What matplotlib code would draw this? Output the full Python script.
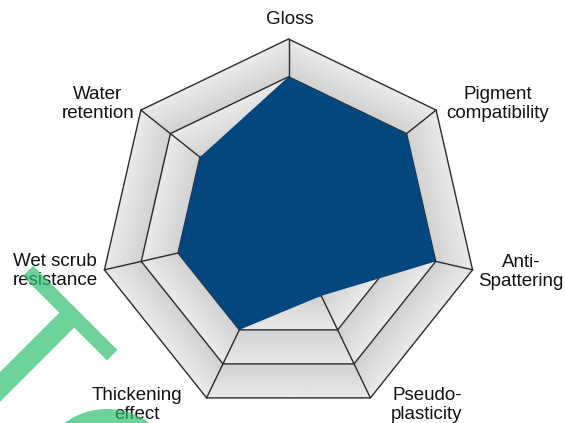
import numpy as np
import matplotlib
matplotlib.use("Agg")
import matplotlib.pyplot as plt
from matplotlib.patches import Polygon, Circle

plt.rcParams['font.family'] = ['Liberation Sans', 'DejaVu Sans']

# data (score on a 0..1 scale, 5 grid levels)
categories = ["Gloss", "Pigment\ncompatibility", "Anti-\nSpattering", "Pseudo-\nplasticity",
              "Thickening\neffect", "Wet scrub\nresistance", "Water\nretention"]
values = [0.8, 0.8, 0.8, 0.4, 0.6, 0.6, 0.6]
levels = [0.2, 0.4, 0.6, 0.8, 1.0]

# layout (pixel-like coords, y down)
W, H = 565, 423
cx, cy, R = 288.5, 227.8, 188.8
label_pos = [(290, 19), (498, 104), (521, 272), (427, 405), (137, 405), (55, 271), (98, 104)]

n = len(categories)
theta = np.deg2rad(90 - np.arange(n) * 360.0 / n)


def pts(r):
    r = np.broadcast_to(r, theta.shape)
    return np.column_stack([cx + r * R * np.cos(theta), cy - r * R * np.sin(theta)])


fig = plt.figure(figsize=(W / 100, H / 100), dpi=100)
ax = fig.add_axes([0, 0, 1, 1])
ax.axis("off")

# shaded grid background (each band darker at its inner edge)
xs = np.linspace(cx - R, cx + R, 500)
ys = np.linspace(cy - R, cy + R, 500)
X, Y = np.meshgrid(xs, ys)
dx, dy = X - cx, cy - Y
phi = theta - np.pi / n
rho = np.max([dx * np.cos(p) + dy * np.sin(p) for p in phi], axis=0) / (R * np.cos(np.pi / n))
shade = np.full(rho.shape, 0.95)
lo = 0.0
for hi in levels:
    m = (rho >= lo) & (rho < hi)
    t = (rho[m] - lo) / (hi - lo)
    shade[m] = 0.82 + 0.10 * t
    lo = hi
outer = Polygon(pts(1.0), closed=True, facecolor="none", edgecolor="none")
ax.add_patch(outer)
img = ax.imshow(shade, cmap="gray", vmin=0, vmax=1, origin="lower",
                extent=(xs[0], xs[-1], ys[0], ys[-1]), interpolation="bilinear", zorder=1)
img.set_clip_path(outer)

# rings and spokes
for lv in levels:
    p = pts(lv)
    ax.add_patch(Polygon(p, closed=True, facecolor="none", edgecolor="#2a2a2a", lw=1.0, zorder=2))
p_in, p_out = pts(levels[0]), pts(1.0)
for a, b in zip(p_in, p_out):
    ax.plot([a[0], b[0]], [a[1], b[1]], color="#2a2a2a", lw=1.0, zorder=2)

# data polygon
ax.add_patch(Polygon(pts(np.array(values)), closed=True, facecolor="#03477e",
                     edgecolor="none", zorder=3))

for lab, (x, y) in zip(categories, label_pos):
    ax.text(x, y, lab, ha="center", va="center", multialignment="center",
            fontsize=13.5, color="#111111", linespacing=1.17, zorder=4)

# green watermark: a tilted "T" plus a disc cut by the bottom edge
green = dict(facecolor="#2ebf6e", edgecolor="none", alpha=0.7, zorder=5)
u = np.array([1.0, 1.0]) / np.sqrt(2)     # crossbar direction
nv = np.array([-1.0, 1.0]) / np.sqrt(2)   # stem direction
org = np.array([0.0, 243.0])
s0, s1, sc, hw, sw, L = 39.6, 158.7, 101.8, 7.35, 10.5, 140
outline = [(s0, -hw), (s1, -hw), (s1, hw), (sc + sw, hw), (sc + sw, L),
           (sc - sw, L), (sc - sw, hw), (s0, hw)]
ax.add_patch(Polygon([org + s * u + q * nv for s, q in outline], closed=True, **green))
ax.add_patch(Circle((107, 481), 72, **green))

ax.set_xlim(0, W)
ax.set_ylim(H, 0)
ax.set_aspect("auto")
fig.savefig("out.png", dpi=100)
